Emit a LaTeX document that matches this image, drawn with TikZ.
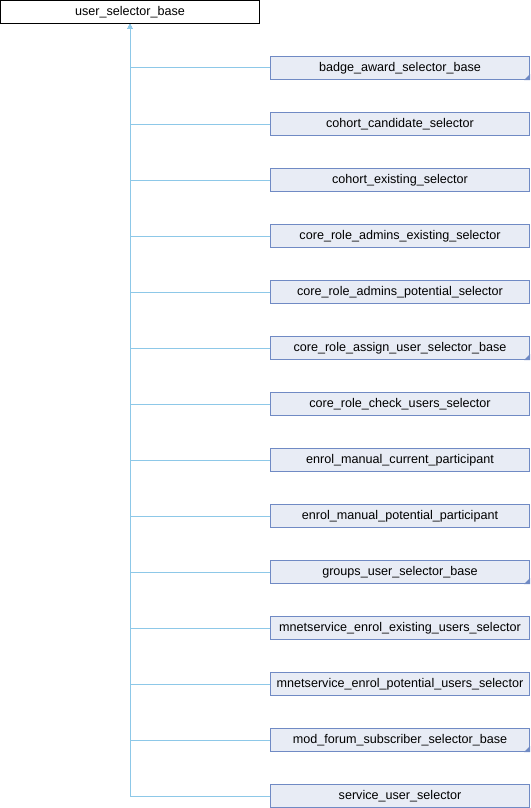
\documentclass[tikz,border=0pt]{standalone}
\usepackage{fontspec}
\setmainfont{Liberation Sans}
\usetikzlibrary{arrows.meta}
\definecolor{edgecol}{RGB}{141,200,232}
\definecolor{boxfill}{RGB}{232,236,245}
\definecolor{boxline}{RGB}{112,138,196}
\tikzset{
  basebox/.style={draw=black, fill=white, line width=1pt, minimum width=259pt, minimum height=23pt, inner sep=0pt, font=\fontsize{12.6}{14}\selectfont},
  childbox/.style={draw=boxline, fill=boxfill, line width=1pt, minimum width=259pt, minimum height=23pt, inner sep=0pt, font=\fontsize{12.6}{14}\selectfont},
  edge/.style={draw=edgecol, line width=1pt, -{Triangle[length=5pt,width=5pt,fill=edgecol]}},
  corner/.style={fill=boxline}
}
\begin{document}
\begin{tikzpicture}[x=1pt,y=-1pt]
\useasboundingbox (0,0) rectangle (530,808);
\node[basebox] (top) at (130,12) {user\_selector\_base};
\foreach \name/\mark [count=\i from 0] in {
  badge\_award\_selector\_base/1,
  cohort\_candidate\_selector/0,
  cohort\_existing\_selector/0,
  core\_role\_admins\_existing\_selector/0,
  core\_role\_admins\_potential\_selector/0,
  core\_role\_assign\_user\_selector\_base/1,
  core\_role\_check\_users\_selector/0,
  enrol\_manual\_current\_participant/0,
  enrol\_manual\_potential\_participant/0,
  groups\_user\_selector\_base/1,
  mnetservice\_enrol\_existing\_users\_selector/0,
  mnetservice\_enrol\_potential\_users\_selector/0,
  mod\_forum\_subscriber\_selector\_base/1,
  service\_user\_selector/0}{
  \node[childbox] (c\i) at (400,68+56*\i) {\name};
  \draw[edge] (c\i.west) -| (top.south);
  \ifnum\mark=1
    \fill[corner] ([xshift=-6pt]c\i.south east) -- ([yshift=6pt]c\i.south east) -- (c\i.south east) -- cycle;
  \fi
}
\end{tikzpicture}
\end{document}
